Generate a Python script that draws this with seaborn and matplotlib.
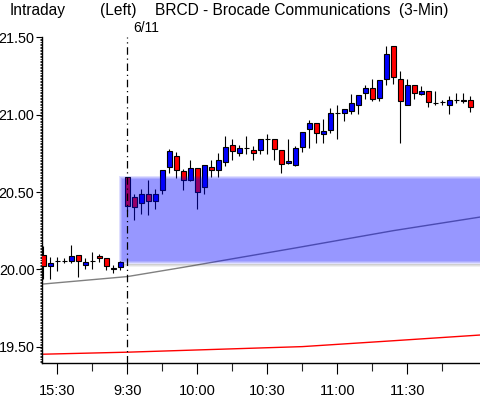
import matplotlib
matplotlib.use("Agg")
import matplotlib.pyplot as plt
import matplotlib.ticker as mticker
from matplotlib.patches import Rectangle
import numpy as np
import pandas as pd
import seaborn as sns

# ---------------- data ----------------
opens = [20.09, 20.02, 20.055, 20.055, 20.055, 20.09, 20.03, 20.055, 20.085, 20.07, 20.005, 20.015,
         20.595, 20.47, 20.43, 20.49, 20.445, 20.51, 20.66, 20.73, 20.635, 20.58, 20.655, 20.535,
         20.66, 20.645, 20.695, 20.805, 20.75, 20.785, 20.77, 20.77, 20.84, 20.84, 20.77, 20.69,
         20.675, 20.79, 20.905, 20.945, 20.875, 20.90, 21.01, 21.01, 21.025, 21.065, 21.14, 21.17,
         21.105, 21.23, 21.445, 21.23, 21.065, 21.19, 21.135, 21.155, 21.075, 21.08, 21.065, 21.095,
         21.087, 21.095]
highs = [20.15, 20.08, 20.08, 20.07, 20.16, 20.09, 20.07, 20.11, 20.10, 20.07, 20.03, 20.055,
         20.60, 20.49, 20.52, 20.58, 20.52, 20.64, 20.78, 20.76, 20.65, 20.71, 20.655, 20.675,
         20.71, 20.75, 20.86, 20.84, 20.805, 20.86, 20.795, 20.84, 20.875, 20.84, 20.77, 20.845,
         20.80, 20.89, 20.965, 20.945, 20.975, 21.045, 21.06, 21.04, 21.135, 21.13, 21.19, 21.23,
         21.225, 21.445, 21.445, 21.285, 21.23, 21.19, 21.185, 21.155, 21.155, 21.095, 21.12, 21.14,
         21.14, 21.12]
lows = [19.94, 19.94, 19.99, 20.04, 20.04, 19.95, 20.005, 20.005, 20.05, 19.995, 19.975, 19.995,
        20.38, 20.32, 20.36, 20.35, 20.39, 20.49, 20.62, 20.59, 20.51, 20.57, 20.39, 20.49,
        20.60, 20.60, 20.665, 20.705, 20.73, 20.745, 20.705, 20.745, 20.745, 20.705, 20.62, 20.68,
        20.67, 20.76, 20.785, 20.815, 20.815, 20.88, 20.84, 20.96, 21.005, 21.005, 21.10, 21.09,
        21.09, 21.19, 21.20, 20.815, 21.06, 21.10, 21.125, 21.05, 21.06, 21.06, 21.005, 21.075,
        21.075, 21.02]
closes = [20.02, 20.04, 20.055, 20.055, 20.085, 20.055, 20.05, 20.055, 20.07, 20.02, 20.005, 20.045,
          20.41, 20.40, 20.49, 20.44, 20.49, 20.64, 20.765, 20.645, 20.58, 20.655, 20.50, 20.675,
          20.645, 20.705, 20.79, 20.765, 20.785, 20.785, 20.755, 20.84, 20.84, 20.775, 20.68, 20.70,
          20.785, 20.89, 20.945, 20.88, 20.895, 21.01, 21.01, 21.04, 21.075, 21.13, 21.17, 21.10,
          21.225, 21.39, 21.245, 21.09, 21.19, 21.14, 21.155, 21.08, 21.075, 21.08, 21.095, 21.095,
          21.095, 21.05]

# moving averages (read at a few bar positions)
ma_short_idx = [0, 12, 20, 26, 36, 50, 62.4]
ma_short_val = [19.905, 19.953, 20.013, 20.060, 20.138, 20.250, 20.338]
ma_long_idx = [0, 12, 37, 50, 62.4]
ma_long_val = [19.451, 19.464, 19.500, 19.538, 19.575]

# gap zone (previous close -> today's open)
gap_low = 20.047
gap_high = 20.597

y_ticks = [19.5, 20.0, 20.5, 21.0, 21.5]
y_tick_labels = ["19.50", "20.00", "20.50", "21.00", "21.50"]
tick_pos = [2, 12, 22, 32, 42, 52]
tick_labels = ["15:30", "9:30", "10:00", "10:30", "11:00", "11:30"]
minor_pos = [7, 17, 27, 37, 47, 57]
session_break = 12

# ---------------- figure ----------------
sns.set_theme(style="white")
FONT = ["Liberation Sans", "DejaVu Sans"]
plt.rcParams["font.family"] = FONT

W, H = 480, 399
fig = plt.figure(figsize=(W / 100, H / 100), dpi=100)
fig.patch.set_facecolor("white")
top_px, bot_px, left_px = 37.4, 362.7, 42
ax = fig.add_axes([left_px / W, 1 - bot_px / H, (W - left_px) / W, (bot_px - top_px) / H])
ax.set_facecolor("white")

n = len(opens)
idx = np.arange(n)
df = pd.DataFrame({"i": idx, "o": opens, "h": highs, "l": lows, "c": closes})

xmin, xmax = -0.186, 62.39
ymin, ymax = 19.396, 21.50
ax.set_xlim(xmin, xmax)
ax.set_ylim(ymin, ymax)

# moving average lines
sns.lineplot(x=ma_long_idx, y=ma_long_val, ax=ax, color="#ff0000", lw=1.0, zorder=1)
sns.lineplot(x=ma_short_idx, y=ma_short_val, ax=ax, color="#808080", lw=1.0, zorder=1)

# candles
px_y = (ymax - ymin) / (bot_px - top_px)
wick_lw = 0.8
ax.vlines(df["i"], df["l"], df["h"], color="black", lw=wick_lw, zorder=2)
colors = ["#0000ff" if c > o else ("#ff0000" if c < o else "black") for o, c in zip(opens, closes)]
bottoms = np.minimum(df["o"], df["c"])
heights = np.maximum(np.abs(df["c"] - df["o"]), px_y * 0.3)
ax.bar(df["i"], heights, bottom=bottoms, width=0.68, color=colors, edgecolor="black",
       linewidth=wick_lw, zorder=3)

# gap zone with soft edge
px_x = 1 / 7.0
layers = 4
a = 1 - 0.6 ** (1 / layers)
for k in range(layers):
    off = (1.5 - k)
    ax.add_patch(Rectangle((11.0 - off * px_x, gap_low - off * px_y),
                           xmax + 1 - (11.0 - off * px_x),
                           (gap_high - gap_low) + 2 * off * px_y,
                           facecolor="#0000ff", edgecolor="none", alpha=a, zorder=4))
for k, al in enumerate([0.25, 0.16, 0.08]):
    ax.add_patch(Rectangle((11.3, gap_low - (2.5 + k) * px_y), xmax, px_y,
                           facecolor="#404040", edgecolor="none", alpha=al, zorder=4))

# session break
ax.axvline(session_break, color="black", lw=0.9, ls=(0, (6, 3, 1, 3)), zorder=5)

# axes styling
for s in ["top", "right"]:
    ax.spines[s].set_visible(False)
for s in ["left", "bottom"]:
    ax.spines[s].set_color("black")
    ax.spines[s].set_linewidth(1.0)
ax.set_yticks(y_ticks)
ax.set_yticklabels(y_tick_labels)
ax.yaxis.set_minor_locator(mticker.MultipleLocator(0.01))
ax.set_xticks(tick_pos)
ax.set_xticklabels(tick_labels)
ax.set_xticks(minor_pos, minor=True)
ax.tick_params(axis="y", which="major", direction="out", length=4.5, width=0.8, pad=1,
               labelsize=10.4, colors="black", left=True)
ax.tick_params(axis="y", which="minor", direction="out", length=1.8, width=0.7, left=True)
ax.tick_params(axis="x", which="major", direction="out", length=8, width=0.8, pad=7,
               labelsize=10.5, colors="black", bottom=True)
ax.tick_params(axis="x", which="minor", direction="out", length=6, width=0.8, bottom=True)
ax.grid(False)

# header texts
def ftext(xp, yp, s, size=11.2):
    fig.text(xp / W, 1 - yp / H, s, ha="left", va="baseline", fontsize=size, color="black")

ftext(10, 15.5, "Intraday")
ftext(100, 15.5, "(Left)")
ftext(155, 15.5, "BRCD - Brocade Communications  (3-Min)")
ftext(133, 32, "6/11", size=10)

fig.savefig("out.png", dpi=100, facecolor="white")
